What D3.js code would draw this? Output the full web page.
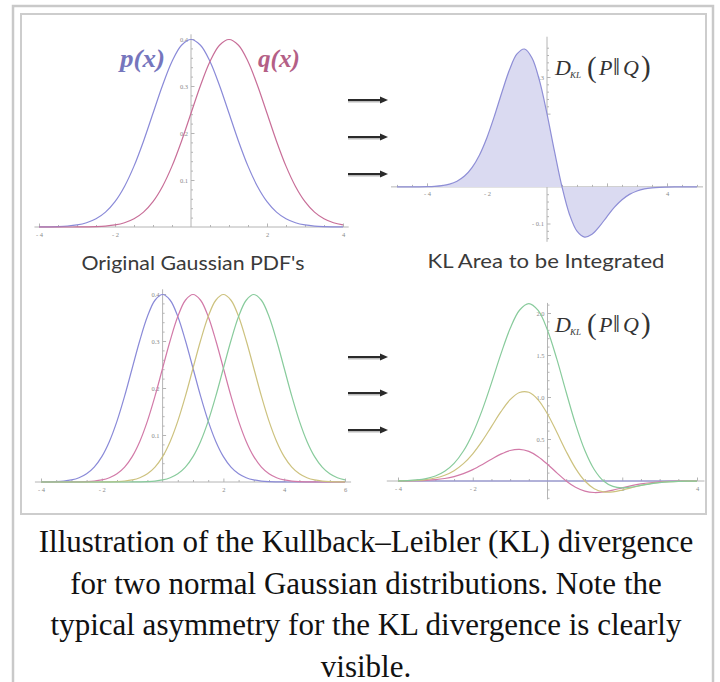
<!DOCTYPE html>
<html><head><meta charset="utf-8">
<script src="https://cdn.jsdelivr.net/npm/d3@7"></script>
<style>body{margin:0;background:#fff}svg{display:block}</style>
</head><body><svg id="c" width="720" height="682"></svg>
<script>
// ---------- data ----------
const xGrid8 = [-4,-3.75,-3.5,-3.25,-3,-2.75,-2.5,-2.25,-2,-1.75,-1.5,-1.25,-1,-0.75,-0.5,-0.25,0,0.25,0.5,0.75,1,1.25,1.5,1.75,2,2.25,2.5,2.75,3,3.25,3.5,3.75,4];
const xGrid10 = [-4,-3.75,-3.5,-3.25,-3,-2.75,-2.5,-2.25,-2,-1.75,-1.5,-1.25,-1,-0.75,-0.5,-0.25,0,0.25,0.5,0.75,1,1.25,1.5,1.75,2,2.25,2.5,2.75,3,3.25,3.5,3.75,4,4.25,4.5,4.75,5,5.25,5.5,5.75,6];
const xGridKL = [-5,-4.75,-4.5,-4.25,-4,-3.75,-3.5,-3.25,-3,-2.75,-2.5,-2.25,-2,-1.75,-1.5,-1.25,-1,-0.75,-0.5,-0.25,0,0.25,0.5,0.75,1,1.25,1.5,1.75,2,2.25,2.5,2.75,3,3.25,3.5,3.75,4,4.25,4.5,4.75,5];

// top-left: p(x) and q(x)
const pValues = [0.0001,0.0004,0.0009,0.0020,0.0044,0.0091,0.0175,0.0317,0.0540,0.0863,0.1295,0.1826,0.2420,0.3011,0.3521,0.3867,0.3989,0.3867,0.3521,0.3011,0.2420,0.1826,0.1295,0.0863,0.0540,0.0317,0.0175,0.0091,0.0044,0.0020,0.0009,0.0004,0.0001];
const qValues = [0,0,0,0,0.0001,0.0004,0.0009,0.0020,0.0044,0.0091,0.0175,0.0317,0.0540,0.0863,0.1295,0.1826,0.2420,0.3011,0.3521,0.3867,0.3989,0.3867,0.3521,0.3011,0.2420,0.1826,0.1295,0.0863,0.0540,0.0317,0.0175,0.0091,0.0044];

// top-right: KL integrand
const klValues = [0,0,0.0001,0.0002,0.0006,0.0015,0.0035,0.0076,0.0155,0.0295,0.0526,0.0873,0.1350,0.1941,0.2590,0.3196,0.3630,0.3764,0.3521,0.2900,0.1995,0.0967,0,-0.0753,-0.1210,-0.1370,-0.1295,-0.1079,-0.0810,-0.0555,-0.0351,-0.0205,-0.0111,-0.0056,-0.0026,-0.0011,-0.0005,-0.0002,-0.0001,0,0];

// bottom-left: four shifted Gaussians
const g0Values = [0.0001,0.0004,0.0009,0.0020,0.0044,0.0091,0.0175,0.0317,0.0540,0.0863,0.1295,0.1826,0.2420,0.3011,0.3521,0.3867,0.3989,0.3867,0.3521,0.3011,0.2420,0.1826,0.1295,0.0863,0.0540,0.0317,0.0175,0.0091,0.0044,0.0020,0.0009,0.0004,0.0001,0,0,0,0,0,0,0,0];
const g1Values = [0,0,0,0,0.0001,0.0004,0.0009,0.0020,0.0044,0.0091,0.0175,0.0317,0.0540,0.0863,0.1295,0.1826,0.2420,0.3011,0.3521,0.3867,0.3989,0.3867,0.3521,0.3011,0.2420,0.1826,0.1295,0.0863,0.0540,0.0317,0.0175,0.0091,0.0044,0.0020,0.0009,0.0004,0.0001,0,0,0,0];
const g2Values = [0,0,0,0,0,0,0,0,0.0001,0.0004,0.0009,0.0020,0.0044,0.0091,0.0175,0.0317,0.0540,0.0863,0.1295,0.1826,0.2420,0.3011,0.3521,0.3867,0.3989,0.3867,0.3521,0.3011,0.2420,0.1826,0.1295,0.0863,0.0540,0.0317,0.0175,0.0091,0.0044,0.0020,0.0009,0.0004,0.0001];
const g3Values = [0,0,0,0,0,0,0,0,0,0,0,0,0.0001,0.0004,0.0009,0.0020,0.0044,0.0091,0.0175,0.0317,0.0540,0.0863,0.1295,0.1826,0.2420,0.3011,0.3521,0.3867,0.3989,0.3867,0.3521,0.3011,0.2420,0.1826,0.1295,0.0863,0.0540,0.0317,0.0175,0.0091,0.0044];

// bottom-right: KL integrands for the four pairs
const kl0Values = [0,0,0,0,0,0,0,0,0,0,0,0,0,0,0,0,0,0,0,0,0,0,0,0,0,0,0,0,0,0,0,0,0];
const kl1Values = [0.0006,0.0015,0.0035,0.0076,0.0155,0.0295,0.0526,0.0873,0.1350,0.1941,0.2590,0.3196,0.3630,0.3764,0.3521,0.2900,0.1995,0.0967,0,-0.0753,-0.1210,-0.1370,-0.1295,-0.1079,-0.0810,-0.0555,-0.0351,-0.0205,-0.0111,-0.0056,-0.0026,-0.0011,-0.0005];
const kl2Values = [0.0013,0.0034,0.0079,0.0173,0.0354,0.0682,0.1227,0.2063,0.3239,0.4745,0.6476,0.8219,0.9679,1.0540,1.0562,0.9667,0.7979,0.5800,0.3521,0.1506,0,-0.0913,-0.1295,-0.1294,-0.1080,-0.0794,-0.0526,-0.0318,-0.0177,-0.0091,-0.0044,-0.0019,-0.0008];
const kl3Values = [0.0022,0.0056,0.0131,0.0289,0.0598,0.1159,0.2104,0.3571,0.5669,0.8412,1.1657,1.5069,1.8148,2.0327,2.1124,2.0300,1.7952,1.4500,1.0562,0.6776,0.3630,0.1370,0,-0.0647,-0.0810,-0.0714,-0.0526,-0.0341,-0.0199,-0.0107,-0.0052,-0.0024,-0.0010];

// tick labels
const ticksX8 = [-4,-2,2,4];
const ticksX10 = [-4,-2,2,4,6];
const ticksYpdf = [0.1,0.2,0.3,0.4];
const ticksYkl = [-0.1,0.1,0.2,0.3];
const ticksYkl2 = [0.5,1.0,1.5,2.0];

const panelTitles = ["Original Gaussian PDF's", "KL Area to be Integrated"];
const captionLines = ["Illustration of the Kullback\u2013Leibler (KL) divergence",
  "for two normal Gaussian distributions. Note the",
  "typical asymmetry for the KL divergence is clearly",
  "visible."];

// ---------- drawing ----------
const C = {blue:"#8a8ad8", pink:"#d27aa8", red:"#c86e98", yellow:"#cdc27f", green:"#88cb9c"};
const svg = d3.select("#c");

svg.append("rect").attr("x",13).attr("y",6).attr("width",700).attr("height",700)
  .attr("fill","#fff").attr("stroke","#c9c9c9").attr("stroke-width",2.5);
svg.append("rect").attr("x",21).attr("y",14).attr("width",685).attr("height",500)
  .attr("fill","#fff").attr("stroke","#cdcdcd").attr("stroke-width",2);

const fmtX = d => d < 0 ? "- " + (-d) : String(d);
const fmtY = d => d < 0 ? "- " + d3.format(".1f")(-d) : d3.format(".1f")(d);

function panel(cfg) {
  const g = svg.append("g");
  const x = d3.scaleLinear().domain(cfg.xDomain).range(cfg.xRange);
  const y = d3.scaleLinear().domain(cfg.yDomain).range(cfg.yRange);
  const axisColor = "#b4b4b4";
  g.append("line").attr("x1", x(cfg.xExtent[0])).attr("x2", x(cfg.xExtent[1]))
    .attr("y1", y(0)).attr("y2", y(0)).attr("stroke", axisColor).attr("stroke-width", 1);
  g.append("line").attr("x1", x(0)).attr("x2", x(0))
    .attr("y1", y(cfg.yExtent[0])).attr("y2", y(cfg.yExtent[1])).attr("stroke", axisColor).attr("stroke-width", 1);
  const style = sel => {
    sel.select(".domain").remove();
    sel.selectAll("line").attr("stroke", axisColor);
    sel.selectAll("text").attr("fill", "#8a8a8a").attr("font-size", 6.5)
      .attr("font-family", "Liberation Serif, serif");
  };
  const xMinor = d3.range(Math.ceil(cfg.xExtent[0] * 2) / 2, cfg.xExtent[1] + 0.01, 0.5)
    .filter(v => Math.abs(v) > 1e-9 && !cfg.xMajor.includes(v));
  g.append("g").attr("transform", `translate(0,${y(0)})`)
    .call(d3.axisBottom(x).tickValues(xMinor).tickSize(-2).tickFormat("")).call(style);
  g.append("g").attr("transform", `translate(0,${y(0)})`)
    .call(d3.axisBottom(x).tickValues(cfg.xMajor).tickSize(-3.5).tickPadding(5).tickFormat(fmtX)).call(style);
  g.append("g").attr("transform", `translate(${x(0)},0)`)
    .call(d3.axisLeft(y).tickValues(cfg.yMinor).tickSize(-2).tickFormat("")).call(style);
  g.append("g").attr("transform", `translate(${x(0)},0)`)
    .call(d3.axisLeft(y).tickValues(cfg.yMajor).tickSize(-3.5).tickPadding(3).tickFormat(fmtY)).call(style);

  cfg.series.forEach(s => {
    const pts = s.xs.map((xv, i) => [xv, s.ys[i]]);
    if (s.fill) {
      g.append("path").datum(pts)
        .attr("d", d3.area().x(d => x(d[0])).y0(y(0)).y1(d => y(d[1])).curve(d3.curveCatmullRom))
        .attr("fill", s.fill).attr("stroke", "none");
    }
    g.append("path").datum(pts)
      .attr("d", d3.line().x(d => x(d[0])).y(d => y(d[1])).curve(d3.curveCatmullRom))
      .attr("fill", "none").attr("stroke", s.color).attr("stroke-width", 1.2);
  });
  return {x, y};
}

const yMinorPdf = d3.range(0.02, 0.41, 0.02).filter(v => Math.abs(v * 10 - Math.round(v * 10)) > 1e-6);

panel({xDomain:[-4,4], xRange:[39,343], yDomain:[0,0.4], yRange:[227,39],
  xExtent:[-4.12,4.15], yExtent:[0,0.41], xMajor:ticksX8, yMajor:ticksYpdf, yMinor:yMinorPdf,
  series:[{xs:xGrid8, ys:pValues, color:C.blue},{xs:xGrid8, ys:qValues, color:C.red}]});

panel({xDomain:[-4,4], xRange:[427,667], yDomain:[-0.1,0.3], yRange:[223.5,77],
  xExtent:[-5.2,5.2], yExtent:[-0.15,0.41], xMajor:ticksX8, yMajor:ticksYkl,
  yMinor:d3.range(-0.14,0.41,0.02).filter(v => Math.abs(v * 10 - Math.round(v * 10)) > 1e-6),
  series:[{xs:xGridKL, ys:klValues, color:"#8e8ed6", fill:"#dadaf1"}]});

panel({xDomain:[-4,6], xRange:[41,345], yDomain:[0,0.4], yRange:[482,294],
  xExtent:[-4.2,6.2], yExtent:[0,0.41], xMajor:ticksX10, yMajor:ticksYpdf, yMinor:yMinorPdf,
  series:[{xs:xGrid10, ys:g0Values, color:C.blue},{xs:xGrid10, ys:g1Values, color:C.pink},
          {xs:xGrid10, ys:g2Values, color:C.yellow},{xs:xGrid10, ys:g3Values, color:C.green}]});

panel({xDomain:[-4,4], xRange:[398,697], yDomain:[0,2], yRange:[481,313],
  xExtent:[-4.3,4.2], yExtent:[-0.22,2.12], xMajor:ticksX8, yMajor:ticksYkl2,
  yMinor:d3.range(-0.2,2.11,0.1).filter(v => Math.abs(v * 2 - Math.round(v * 2)) > 1e-6),
  series:[{xs:xGrid8, ys:kl0Values, color:C.blue},{xs:xGrid8, ys:kl1Values, color:C.pink},
          {xs:xGrid8, ys:kl2Values, color:C.yellow},{xs:xGrid8, ys:kl3Values, color:C.green}]});

// curve labels
svg.append("text").attr("x",120).attr("y",67).attr("font-family","Liberation Serif, serif")
  .attr("font-style","italic").attr("font-weight","bold").attr("font-size",25)
  .attr("textLength",45).attr("lengthAdjust","spacingAndGlyphs").attr("fill","#7676bd").text("p(x)");
svg.append("text").attr("x",258).attr("y",67).attr("font-family","Liberation Serif, serif")
  .attr("font-style","italic").attr("font-weight","bold").attr("font-size",25)
  .attr("textLength",42).attr("lengthAdjust","spacingAndGlyphs").attr("fill","#b45f86").text("q(x)");

// D_KL(P||Q) labels
function dkl(baseY) {
  const t = svg.append("text").attr("font-family","Liberation Serif, serif").attr("fill","#333").attr("y", baseY);
  t.append("tspan").attr("x",555).attr("font-style","italic").attr("font-size",22).text("D");
  t.append("tspan").attr("x",570).attr("dy",3).attr("font-style","italic").attr("font-size",9).text("KL");
  t.append("tspan").attr("x",587).attr("dy",-1).attr("font-size",29).text("(");
  t.append("tspan").attr("x",599).attr("dy",-2).attr("font-style","italic").attr("font-size",22).text("P");
  t.append("tspan").attr("x",613).attr("font-size",25).text("\u2016");
  t.append("tspan").attr("x",623).attr("font-style","italic").attr("font-size",22).text("Q");
  t.append("tspan").attr("x",641).attr("dy",1).attr("font-size",29).text(")");
}
dkl(75); dkl(332);

// arrows
const arrowRows = [100, 137, 174, 357, 393, 430];
arrowRows.forEach(yy => {
  svg.append("line").attr("x1",348).attr("x2",382).attr("y1",yy+1.5).attr("y2",yy+1.5)
    .attr("stroke","#bbb").attr("stroke-width",2);
  svg.append("line").attr("x1",348).attr("x2",382).attr("y1",yy).attr("y2",yy)
    .attr("stroke","#2a2a2a").attr("stroke-width",2.2);
  svg.append("path").attr("d",`M380,${yy-3.5}L388,${yy}L380,${yy+3.5}Z`).attr("fill","#2a2a2a");
});

// panel titles
svg.append("text").attr("x",193).attr("y",270).attr("text-anchor","middle")
  .attr("font-family","Lato, Open Sans, sans-serif").attr("font-size",20).attr("fill","#3a3a3a")
  .attr("textLength",223).attr("lengthAdjust","spacingAndGlyphs").text(panelTitles[0]);
svg.append("text").attr("x",546).attr("y",268).attr("text-anchor","middle")
  .attr("font-family","Lato, Open Sans, sans-serif").attr("font-size",20).attr("fill","#3a3a3a")
  .attr("textLength",237).attr("lengthAdjust","spacingAndGlyphs").text(panelTitles[1]);

// caption
svg.append("g").selectAll("text").data(captionLines).join("text")
  .attr("x",366).attr("y",(d,i) => 552 + i*41.5).attr("text-anchor","middle")
  .attr("font-family","Liberation Serif, Times New Roman, serif").attr("font-size",31)
  .attr("fill","#111").text(d => d);
</script></body></html>
